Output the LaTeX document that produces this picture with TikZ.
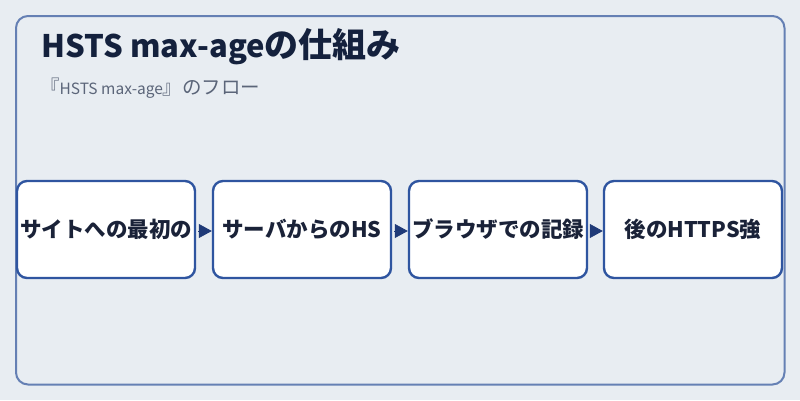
\documentclass[tikz,border=0pt]{standalone}
\usepackage{fontspec}
\setmainfont{Noto Sans CJK JP}
\usetikzlibrary{arrows.meta}
\definecolor{bgc}{HTML}{E8EDF2}
\definecolor{framec}{HTML}{6580B4}
\definecolor{boxc}{HTML}{2F55A0}
\definecolor{arrc}{HTML}{1F3A78}
\definecolor{titlec}{HTML}{14213D}
\definecolor{subc}{HTML}{5B6579}
\definecolor{txtc}{HTML}{1A2238}
\newcommand{\fsz}[1]{\fontsize{#1}{#1}\selectfont}
\tikzset{
  stepbox/.style={draw=boxc, line width=2.4pt, fill=white, rounded corners=10pt,
    minimum width=178pt, minimum height=97pt, inner sep=0pt,
    text height=16pt, text depth=0pt,
    font=\fsz{21.5}\bfseries, text=txtc},
  flow/.style={draw=arrc, fill=arrc, line width=0.8pt, shorten <=2pt,
    -{Triangle[length=13pt,width=14pt]}},
}
\begin{document}
\begin{tikzpicture}[x=1pt,y=-1pt]
\useasboundingbox[fill=bgc] (0,0) rectangle (800,400);
\draw[draw=framec, line width=2pt, rounded corners=12pt] (16,16) rectangle (784.5,384.5);
\node[anchor=base west, inner sep=0pt, text=titlec, font=\fsz{31}\bfseries] (title) at (41,57.5) {HSTS max-age{\fsz{34}の仕組み}};
\node[anchor=base west, inner sep=0pt, text=subc, font=\fsz{15.5}] (sub) at (40,94) {{\fsz{19.5}『}HSTS max-age{\fsz{19.5}』のフロー}};
\node[stepbox] (b1) at (106,229.5) {サイトへの最初の};
\node[stepbox] (b2) at (302,229.5) {サーバからのHS};
\node[stepbox] (b3) at (498,229.5) {ブラウザでの記録};
\node[stepbox] (b4) at (693,229.5) {後のHTTPS強};
\draw[flow] ([yshift=-1.5pt]b1.east) -- ([yshift=-1.5pt]b2.west);
\draw[flow] ([yshift=-1.5pt]b2.east) -- ([yshift=-1.5pt]b3.west);
\draw[flow] ([yshift=-1.5pt]b3.east) -- ([yshift=-1.5pt]b4.west);
\end{tikzpicture}
\end{document}
